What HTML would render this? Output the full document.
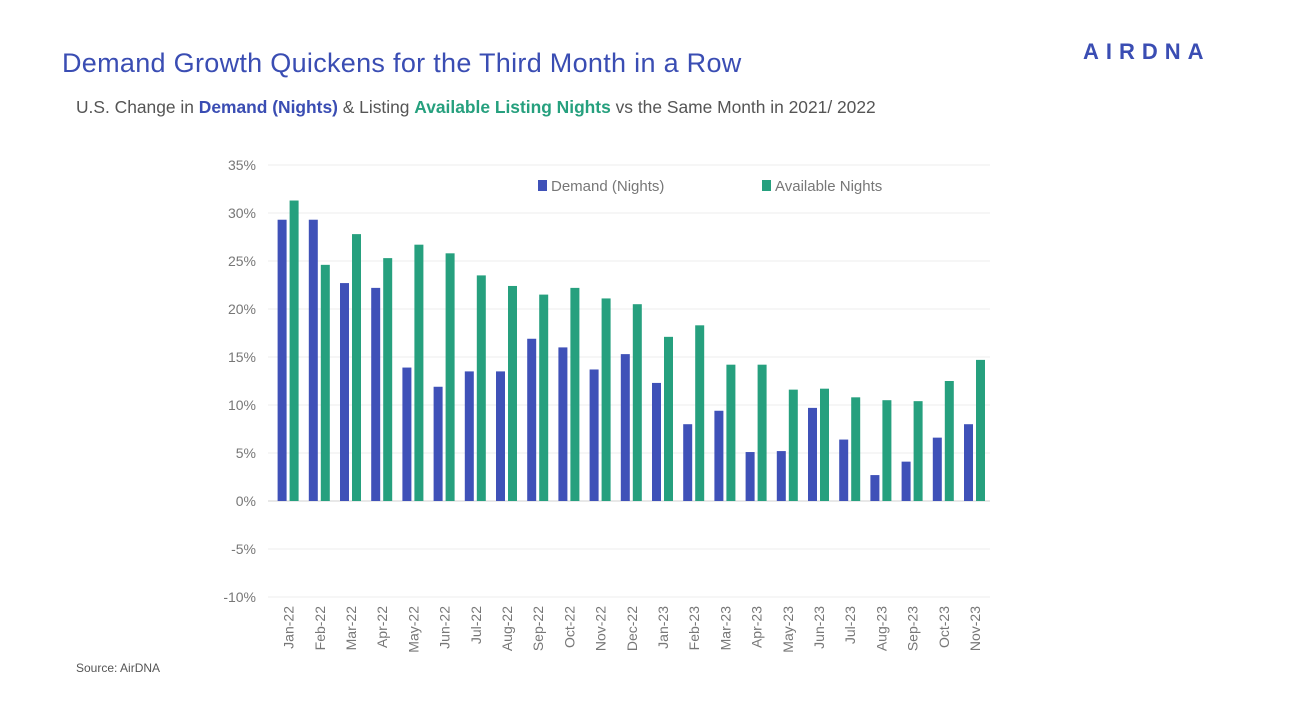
<!DOCTYPE html>
<html><head><meta charset="utf-8"><style>
body{margin:0;width:1293px;height:712px;background:#fff;font-family:"Liberation Sans",sans-serif;position:relative;overflow:hidden}
.t{position:absolute;white-space:nowrap}
</style></head><body>
<div class="t" style="left:62px;top:48px;font-size:27px;letter-spacing:0.3px;color:#3a4db3">Demand Growth Quickens for the Third Month in a Row</div>
<div class="t" style="left:1083px;top:39px;font-size:22px;letter-spacing:7px;color:#3a4db3;font-weight:bold">AIRDNA</div>
<div class="t" style="left:76px;top:97px;font-size:17.4px;color:#555">U.S. Change in <b style="color:#3a4db3">Demand (Nights)</b> &amp; Listing <b style="color:#26a07e">Available Listing Nights</b> vs the Same Month in 2021/ 2022</div>
<div class="t" style="left:76px;top:661px;font-size:12px;color:#555">Source: AirDNA</div>
<svg id="c" width="1293" height="712" style="position:absolute;left:0;top:0"></svg>
<script>
const categories=["Jan-22","Feb-22","Mar-22","Apr-22","May-22","Jun-22","Jul-22","Aug-22","Sep-22","Oct-22","Nov-22","Dec-22","Jan-23","Feb-23","Mar-23","Apr-23","May-23","Jun-23","Jul-23","Aug-23","Sep-23","Oct-23","Nov-23"];
const demand=[29.3,29.3,22.7,22.2,13.9,11.9,13.5,13.5,16.9,16.0,13.7,15.3,12.3,8.0,9.4,5.1,5.2,9.7,6.4,2.7,4.1,6.6,8.0];
const available=[31.3,24.6,27.8,25.3,26.7,25.8,23.5,22.4,21.5,22.2,21.1,20.5,17.1,18.3,14.2,14.2,11.6,11.7,10.8,10.5,10.4,12.5,14.7];
const ticks=[-10,-5,0,5,10,15,20,25,30,35];
const svg=document.getElementById('c');const NS='http://www.w3.org/2000/svg';
const x0=273,x1=990.6,bw=(x1-x0)/categories.length;
const y=v=>501-v*9.6;
function mk(t,a){const e=document.createElementNS(NS,t);for(const k in a)e.setAttribute(k,a[k]);svg.appendChild(e);return e;}
ticks.forEach(v=>{
 const l=mk('line',{x1:268,x2:990,y1:y(v),y2:y(v),stroke:v===0?'#d0d0d0':'#ececec','stroke-width':1});
 
 
 const t=mk('text',{x:256,y:y(v)+5,'text-anchor':'end','font-size':14,fill:'#777','font-family':'Liberation Sans'});
 t.textContent=v+'%';
 
 
});
categories.forEach((c,i)=>{
 const cx=x0+bw*(i+0.5);
 const d=mk('rect',{x:cx-11,y:Math.min(y(demand[i]),y(0)),width:9,height:Math.abs(y(0)-y(demand[i])),fill:'#3f51b8'});
 
 
 const a=mk('rect',{x:cx+1,y:Math.min(y(available[i]),y(0)),width:9,height:Math.abs(y(0)-y(available[i])),fill:'#26a07e'});
 
 
 const t=mk('text',{x:0,y:0,'text-anchor':'end','font-size':14,fill:'#777','font-family':'Liberation Sans',transform:`translate(${cx+5},606) rotate(-90)`});
 t.textContent=c;
 
 
});
[[538,'#3f51b8','Demand (Nights)'],[762,'#26a07e','Available Nights']].forEach(([lx,col,txt])=>{
 const r=mk('rect',{x:lx,y:180,width:9,height:11,fill:col});
 
 
 const t=mk('text',{x:lx+13,y:191,'font-size':15,fill:'#777','font-family':'Liberation Sans'});
 t.textContent=txt;
 
 
});
</script>
</body></html>
